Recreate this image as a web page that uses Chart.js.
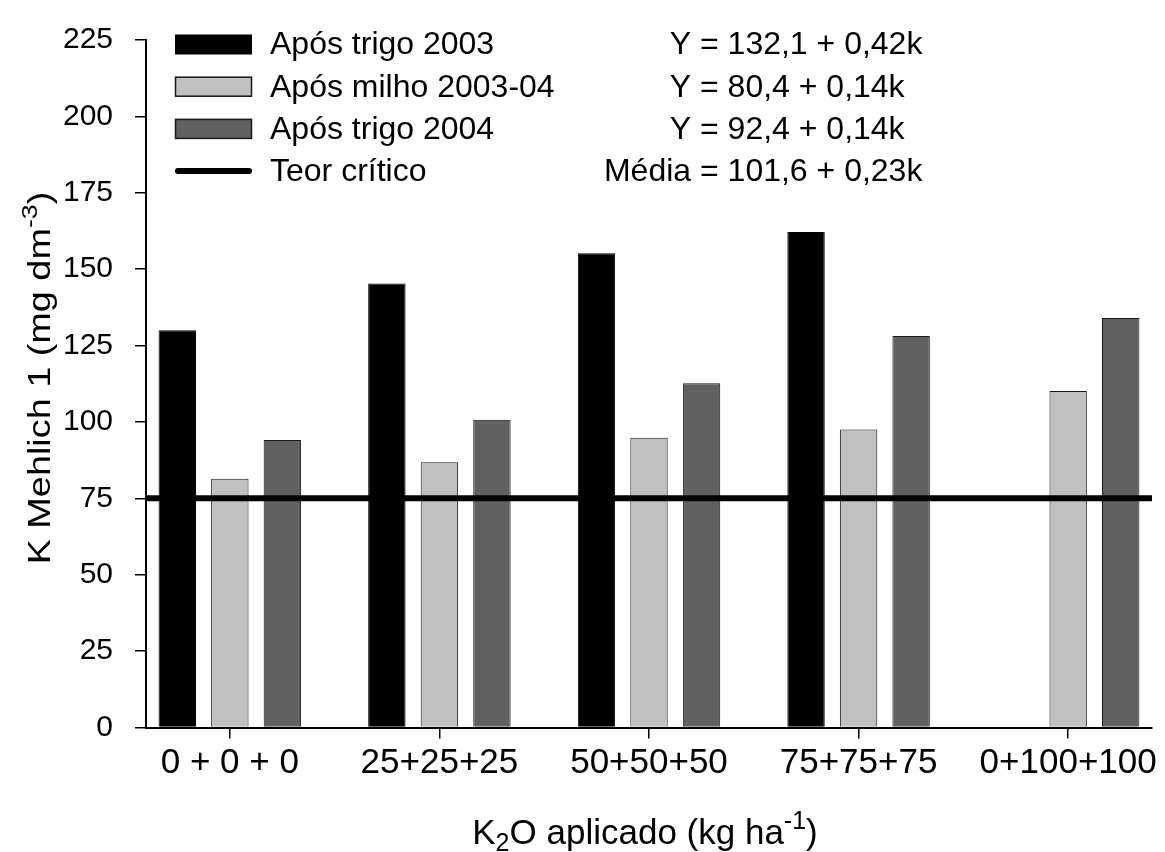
<!DOCTYPE html>
<html>
<head>
<meta charset="utf-8">
<script src="https://cdn.jsdelivr.net/npm/chart.js@4.4.1/dist/chart.umd.min.js"></script>
<style>
  html, body { margin: 0; padding: 0; background: #ffffff; }
  canvas { display: block; }
</style>
</head>
<body>
<canvas id="chart" width="1165" height="852"></canvas>
<script>
// K2O doses (three successive crops) and soil K (Mehlich 1) after each crop
const categories = ['0 + 0 + 0', '25+25+25', '50+50+50', '75+75+75', '0+100+100'];
const seriesNames = ['Após trigo 2003', 'Após milho 2003-04', 'Após trigo 2004'];
const trigo2003 = [130.0, 145.3, 155.2, 162.2, null];
const milho200304 = [81.4, 86.8, 94.8, 97.5, 110.1];
const trigo2004 = [94.1, 100.7, 112.7, 128.1, 134.0];
const criticalName = 'Teor crítico';
const criticalLevel = 75;
const equations = ['Y = 132,1 + 0,42k', 'Y = 80,4 + 0,14k', 'Y = 92,4 + 0,14k', 'Média = 101,6 + 0,23k'];
const yTickValues = [0, 25, 50, 75, 100, 125, 150, 175, 200, 225];

const SANS = "'Liberation Sans', Arial, Helvetica, sans-serif";
const fills = ['#000000', '#c0c0c0', '#616161'];
const edges = ['#000000', '#1a1a1a', '#1a1a1a'];

const xMin = -0.4, xMax = categories.length - 0.6;

function barSet(name, values, i) {
  return {
    type: 'bar',
    label: name,
    data: values.map((v, k) => ({ x: k, y: v })),
    backgroundColor: fills[i],
    borderColor: edges[i],
    borderWidth: 1,
    categoryPercentage: 0.752,
    barPercentage: 0.712,
    order: 1
  };
}

// legend block, axis titles with sub/superscripts
const decorations = {
  id: 'decorations',
  afterDraw(chart) {
    const ctx = chart.ctx;
    ctx.save();
    ctx.fillStyle = '#000';
    ctx.textBaseline = 'middle';

    // legend
    const boxX = 175, boxW = 77, boxH = 20, textX = 270, eqX = 700;
    const rowY0 = 44.5, rowGap = 42.2;
    ctx.font = '32px ' + SANS;
    const labels = seriesNames.concat([criticalName]);
    labels.forEach((lab, i) => {
      const cy = rowY0 + i * rowGap;
      if (i < seriesNames.length) {
        ctx.fillStyle = fills[i];
        ctx.fillRect(boxX, cy - boxH / 2, boxW, boxH);
        if (i > 0) {
          ctx.strokeStyle = '#1a1a1a';
          ctx.lineWidth = 1.5;
          ctx.strokeRect(boxX + 0.5, cy - boxH / 2 + 0.5, boxW - 1, boxH - 1);
        }
      } else {
        ctx.strokeStyle = '#000';
        ctx.lineWidth = 6;
        ctx.lineCap = 'round';
        ctx.beginPath();
        ctx.moveTo(boxX + 3, cy);
        ctx.lineTo(boxX + boxW - 3, cy);
        ctx.stroke();
      }
      ctx.fillStyle = '#000';
      ctx.textAlign = 'left';
      ctx.fillText(lab, textX, cy + 1);
      const eq = equations[i];
      const cut = eq.indexOf('=');
      ctx.textAlign = 'right';
      ctx.fillText(eq.slice(0, cut), eqX, cy + 1);
      ctx.textAlign = 'left';
      ctx.fillText(eq.slice(cut), eqX, cy + 1);
    });

    // x axis title: K2O aplicado (kg ha-1)
    const xParts = [
      { t: 'K', s: 0 }, { t: '2', s: 1 }, { t: 'O aplicado (kg ha', s: 0 }, { t: '-1', s: -1 }, { t: ')', s: 0 }
    ];
    drawRich(ctx, xParts, 645, 831, 35, SANS, false, 1);

    // y axis title: K Mehlich 1 (mg dm-3), slightly elongated lettering
    const yParts = [
      { t: 'K Mehlich 1 (mg dm', s: 0 }, { t: '-3', s: -1 }, { t: ')', s: 0 }
    ];
    drawRich(ctx, yParts, 39, 378, 31, SANS, true, 1.22);
    ctx.restore();
  }
};

function drawRich(ctx, parts, cx, cy, size, family, rotate, stretch) {
  const small = Math.round(size * 0.72);
  const fontFor = p => (p.s === 0 ? size : small) + 'px ' + family;
  let total = 0;
  parts.forEach(p => { ctx.font = fontFor(p); total += ctx.measureText(p.t).width; });
  ctx.save();
  ctx.translate(cx, cy);
  if (rotate) ctx.rotate(-Math.PI / 2);
  ctx.scale(stretch, 1);
  ctx.textAlign = 'left';
  ctx.textBaseline = 'alphabetic';
  let x = -total / 2;
  const base = size * 0.36;
  parts.forEach(p => {
    ctx.font = fontFor(p);
    let dy = 0;
    if (p.s === 1) dy = size * 0.22;
    if (p.s === -1) dy = -size * 0.42;
    ctx.fillText(p.t, x, base + dy);
    x += ctx.measureText(p.t).width;
  });
  ctx.restore();
}

new Chart(document.getElementById('chart'), {
  data: {
    datasets: [
      barSet(seriesNames[0], trigo2003, 0),
      barSet(seriesNames[1], milho200304, 1),
      barSet(seriesNames[2], trigo2004, 2),
      {
        type: 'line',
        label: criticalName,
        data: [{ x: xMin, y: criticalLevel }, { x: xMax, y: criticalLevel }],
        borderColor: '#000',
        borderWidth: 6,
        borderCapStyle: 'round',
        pointRadius: 0,
        order: 0
      }
    ]
  },
  options: {
    responsive: false,
    animation: false,
    devicePixelRatio: 1,
    layout: { padding: { left: 0, right: 13, top: 27, bottom: 0 } },
    plugins: { legend: { display: false }, tooltip: { enabled: false } },
    scales: {
      x: {
        type: 'linear',
        min: xMin,
        max: xMax,
        offset: false,
        afterBuildTicks(scale) { scale.ticks = categories.map((_, i) => ({ value: i })); },
        afterFit(scale) { scale.height = 124.5; },
        border: { display: true, color: '#000', width: 2 },
        grid: { offset: false, drawOnChartArea: false, drawTicks: true, tickLength: 11, color: '#000', lineWidth: 1.5 },
        ticks: {
          autoSkip: false,
          maxRotation: 0,
          padding: 4,
          color: '#000',
          font: { family: SANS, size: 35 },
          callback: v => categories[Math.round(v)]
        }
      },
      y: {
        min: 0,
        max: 225,
        afterBuildTicks(scale) { scale.ticks = yTickValues.map(v => ({ value: v })); },
        afterFit(scale) { scale.width = 146; },
        border: { display: true, color: '#000', width: 2 },
        grid: { drawOnChartArea: false, drawTicks: true, tickLength: 11, color: '#000', lineWidth: 1.5 },
        ticks: {
          padding: 22,
          color: '#000',
          font: { family: SANS, size: 30 }
        }
      }
    }
  },
  plugins: [decorations]
});
</script>
</body>
</html>
